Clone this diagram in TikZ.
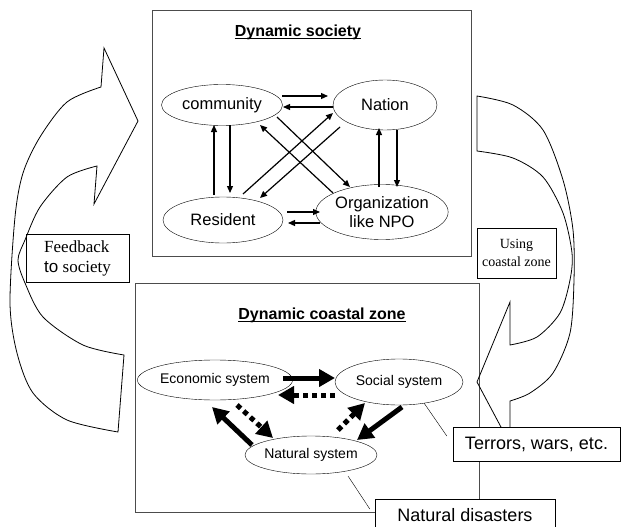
\documentclass[tikz,border=0pt]{standalone}
\usepackage{fontspec}
\setmainfont{Liberation Serif}
\setsansfont{Liberation Sans}
\usetikzlibrary{shapes.geometric,arrows.meta}

\begin{document}
\begin{tikzpicture}[x=1pt,y=-1pt,
  ell/.style={draw,ellipse,inner sep=0pt,align=center,font=\sffamily\fontsize{16.5}{19}\selectfont},
  sys/.style={draw,ellipse,inner sep=0pt,font=\sffamily\fontsize{14}{16}\selectfont},
  arr/.style={line width=1.2pt,-{Triangle[length=7pt,width=6pt]}},
  fat/.style={line width=5pt,-{Triangle[length=16pt,width=17pt]}},
  fatdash/.style={fat,dash pattern=on 5pt off 4pt},
  lbl/.style={draw,fill=white,inner sep=0pt,font=\sffamily\fontsize{18}{20}\selectfont},
  note/.style={draw,inner sep=0pt},
  heading/.style={anchor=base,inner sep=0pt,font=\sffamily\bfseries\fontsize{16}{18}\selectfont}]
\useasboundingbox (0,0) rectangle (621,527);

% the two frames
\draw[black!70,line width=1pt] (152,11) rectangle (471,256);
\draw[black!70,line width=1pt] (135,283) rectangle (479,512);
\node[heading] (soctitle) at (298,37) {Dynamic society};
\node[heading] (zonetitle) at (322,319) {Dynamic coastal zone};
\draw[line width=1pt] ([yshift=-2pt]soctitle.base west) -- ([yshift=-2pt]soctitle.base east);
\draw[line width=1pt] ([yshift=-2pt]zonetitle.base west) -- ([yshift=-2pt]zonetitle.base east);

% big curved arrows
\draw[line width=0.8pt] (138,121) -- (104,48) -- (101,87)
  -- plot[smooth] coordinates {(101,87) (67,102) (40,137) (23,173) (15,217) (10,303) (17,353) (33,393) (67,420) (118,432)}
  -- (124,355)
  -- plot[smooth] coordinates {(124,355) (83,345) (43,317) (25,283) (18,260) (25,240) (40,207) (67,177) (97,166)}
  -- (94,204) -- cycle;
\draw[line width=0.8pt] (477,382) -- (510,302) -- (510,345)
  -- plot[smooth] coordinates {(510,345) (537,337) (560,313) (570,280) (572,253) (563,213) (543,177) (513,158) (477,151)}
  -- (477,96)
  -- plot[smooth] coordinates {(477,96) (513,105) (543,130) (563,180) (573,230) (574,280) (570,333) (553,373) (530,393) (510,401)}
  -- (510,444) -- cycle;

% society
\node[ell,minimum width=121,minimum height=41] (comm) at (222,105) {community};
\node[ell,minimum width=104,minimum height=50] (nat) at (385,105) {Nation};
\node[ell,minimum width=120,minimum height=46] (res) at (223,220) {Resident};
\node[ell,minimum width=121,minimum height=55] (org) at (382,212) {Organization\\like NPO};

\draw[arr] ([shift={(60,-9)}]comm.center) -- ([shift={(-57,-9)}]nat.center);
\draw[arr] ([shift={(-52,2)}]nat.center) -- ([shift={(61,2)}]comm.center);
\draw[arr] ([shift={(-9,-25)}]res.center) -- ([shift={(-8,20)}]comm.center);
\draw[arr] ([shift={(8,20)}]comm.center) -- ([shift={(7,-27)}]res.center);
\draw[arr] ([shift={(-3,-25)}]org.center) -- ([shift={(-6,23)}]nat.center);
\draw[arr] ([shift={(12,25)}]nat.center) -- ([shift={(15,-25)}]org.center);
\draw[arr] ([shift={(64,-8)}]res.center) -- ([shift={(-62,0)}]org.center);
\draw[arr] ([shift={(-62,11)}]org.center) -- ([shift={(65,3)}]res.center);
\draw[arr] ([shift={(20,-26)}]res.center) -- ([shift={(-52,8)}]nat.center);
\draw[arr] ([shift={(-45,22)}]nat.center) -- ([shift={(37,-22)}]res.center);
\draw[arr] ([shift={(55,12)}]comm.center) -- ([shift={(-32,-25)}]org.center);
\draw[arr] ([shift={(-49,-19)}]org.center) -- ([shift={(38,20)}]comm.center);

% coastal zone
\node[sys,minimum width=134,minimum height=40] (eco) at (215,380) {Economic system};
\node[sys,minimum width=128,minimum height=46] (soc) at (399,382) {Social system};
\node[sys,minimum width=128,minimum height=38] (natsys) at (311,455) {Natural system};

\draw[fat] ([shift={(68,-2)}]eco.center) -- ([shift={(-64,-4)}]soc.center);
\draw[fatdash] ([shift={(-64,13)}]soc.center) -- ([shift={(63,15)}]eco.center);
\draw[fat] ([shift={(-59,-10)}]natsys.center) -- ([shift={(-3,27)}]eco.center);
\draw[fatdash] ([shift={(22,25)}]eco.center) -- ([shift={(-38,-17)}]natsys.center);
\draw[fatdash] ([shift={(27,-25)}]natsys.center) -- ([shift={(-34,21)}]soc.center);
\draw[fat] ([shift={(3,25)}]soc.center) -- ([shift={(46,-15)}]natsys.center);

% labels
\node[note,minimum width=103,minimum height=48,align=left,font=\fontsize{17}{20}\selectfont] (fb) at (77.5,258) {Feedback\\{\sffamily to} society};
\node[note,minimum width=79,minimum height=50,align=center,font=\fontsize{14}{18}\selectfont] (uz) at (516.5,253) {Using\\coastal zone};
\node[lbl,minimum width=167,minimum height=34] (terr) at (536.5,444) {Terrors, wars, etc.};
\node[lbl,minimum width=180,minimum height=32] (dis) at (465,515) {Natural disasters};

\draw ([shift={(25,21)}]soc.center) -- ([shift={(-6,-8)}]terr.west);
\draw ([shift={(37,21)}]natsys.center) -- ([shift={(-5,-6)}]dis.west);
\end{tikzpicture}
\end{document}
